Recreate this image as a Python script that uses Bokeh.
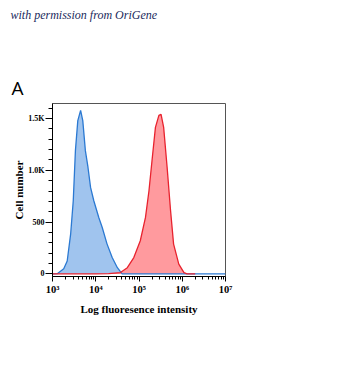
from bokeh.plotting import figure
from bokeh.models import FixedTicker, Label, Range1d
from bokeh.layouts import column
from bokeh.embed import file_html
from bokeh.resources import INLINE

# ---- data (log10 fluorescence intensity, cell count) ----
blue_log = [3.00, 3.11, 3.26, 3.34, 3.42, 3.48, 3.53, 3.585, 3.65, 3.70, 3.76, 3.82,
            3.88, 3.955, 4.07, 4.15, 4.26, 4.38, 4.50, 4.61, 5.00, 6.00, 7.00]
blue_cnt = [0, 2, 50, 125, 387, 706, 1190, 1480, 1578, 1480, 1190, 1030,
            835, 706, 545, 448, 290, 158, 60, 0, 0, 0, 0]

red_log = [3.00, 4.00, 4.30, 4.57, 4.73, 4.88, 5.03, 5.15, 5.23, 5.30, 5.38, 5.46,
           5.51, 5.57, 5.65, 5.73, 5.80, 5.92, 6.04, 6.11, 6.30]
red_cnt = [0, 0, 2, 13, 60, 158, 320, 545, 800, 1090, 1415, 1530,
           1540, 1415, 1030, 610, 288, 94, 13, 0, 0]

y_ticks = [0, 500, 1000, 1500]
y_tick_labels = ["0", "500", "1.0K", "1.5K"]
x_decades = [3, 4, 5, 6, 7]
x_tick_labels = ["10³", "10⁴", "10⁵", "10⁶", "10⁷"]

blue_x = [10 ** v for v in blue_log]
red_x = [10 ** v for v in red_log]

# ---- header with credit line and panel letter ----
head = figure(width=360, height=100, x_range=Range1d(0, 360), y_range=Range1d(0, 100),
              output_backend="svg", toolbar_location=None,
              x_axis_location=None, y_axis_location=None,
              min_border=0, min_border_left=0, min_border_right=0,
              min_border_top=0, min_border_bottom=0,
              outline_line_color=None, frame_align=False)
head.xgrid.visible = False
head.ygrid.visible = False
head.add_layout(Label(x=10, y=86, x_units="screen", y_units="screen",
                      text="with permission from OriGene",
                      text_font="Liberation Serif", text_font_style="italic",
                      text_font_size="12px", text_color="#1b2a5c",
                      text_baseline="alphabetic", text_align="left"))
head.add_layout(Label(x=11, y=13, x_units="screen", y_units="screen",
                      text="A", text_font="Open Sans", text_font_size="19px",
                      text_color="black", text_baseline="alphabetic", text_align="left"))

# ---- histogram ----
p = figure(width=360, height=287, x_axis_type="log",
           x_range=Range1d(1e3, 1e7), y_range=Range1d(-25, 1645),
           output_backend="svg", toolbar_location=None, frame_align=False,
           min_border_left=52, min_border_right=135,
           min_border_top=3, min_border_bottom=111)

p.varea(x=blue_x, y1=0, y2=blue_cnt, fill_color="#a0c4ee", fill_alpha=1)
p.varea(x=red_x, y1=0, y2=red_cnt, fill_color="#ff9a9e", fill_alpha=1)
p.line(blue_x, blue_cnt, line_color="#2b79d2", line_width=1.3)
p.line(red_x, red_cnt, line_color="#e8222e", line_width=1.3)

p.xgrid.visible = False
p.ygrid.visible = False
p.outline_line_color = "#555555"
p.outline_line_width = 1

# x axis
minor_x = [k * 10 ** d for d in x_decades[:-1] for k in range(2, 10)]
p.xaxis.ticker = FixedTicker(ticks=[10 ** d for d in x_decades], minor_ticks=minor_x)
p.xaxis.major_label_overrides = {10 ** d: lab for d, lab in zip(x_decades, x_tick_labels)}
p.xaxis.axis_label = "Log fluoresence intensity"

# y axis
p.yaxis.ticker = FixedTicker(ticks=y_ticks, minor_ticks=list(range(0, 1700, 100)))
p.yaxis.major_label_overrides = {t: lab for t, lab in zip(y_ticks, y_tick_labels)}
p.yaxis.axis_label = "Cell number"

for ax in (p.xaxis, p.yaxis):
    ax.axis_line_color = "black"
    ax.major_tick_line_color = "black"
    ax.minor_tick_line_color = "black"
    ax.major_tick_in = 0
    ax.minor_tick_in = 0
    ax.major_label_text_font = "Liberation Serif"
    ax.major_label_text_font_style = "bold"
    ax.major_label_text_color = "black"
    ax.axis_label_text_font = "Liberation Serif"
    ax.axis_label_text_font_style = "bold"
    ax.axis_label_text_font_size = "11px"
    ax.axis_label_text_color = "black"

p.yaxis.major_label_text_font_size = "8px"
p.xaxis.major_label_text_font_size = "10.5px"
p.xaxis.major_tick_out = 5
p.xaxis.minor_tick_out = 3
p.yaxis.major_tick_out = 7
p.yaxis.minor_tick_out = 4
p.xaxis.major_label_standoff = 2
p.xaxis.axis_label_standoff = 5
p.yaxis.major_label_standoff = 1
p.yaxis.axis_label_standoff = 0

open("out.html", "w").write(file_html(column(head, p), INLINE))
